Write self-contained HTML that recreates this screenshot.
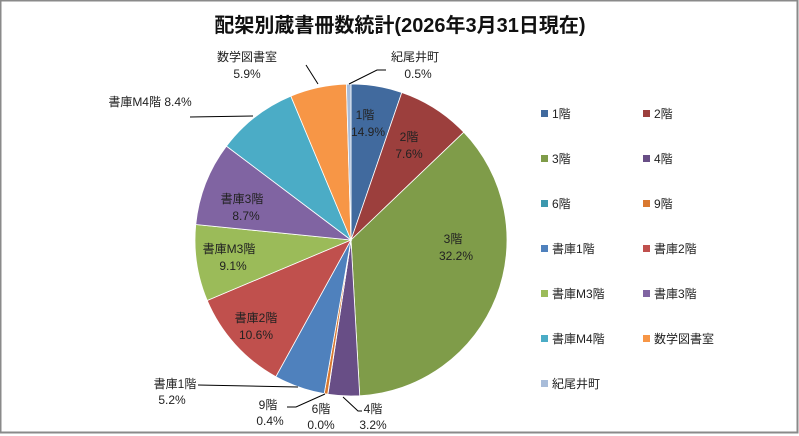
<!DOCTYPE html>
<html><head><meta charset="utf-8"><style>
html,body{margin:0;padding:0;background:#fff}
svg{display:block}
text{font-family:"Liberation Sans","Noto Sans CJK JP",sans-serif;font-size:12px;fill:#222}
</style></head><body>
<svg width="799" height="436" viewBox="0 0 799 436" xmlns="http://www.w3.org/2000/svg">
<rect x="0.5" y="0.5" width="797" height="432" fill="#fff" stroke="#8a8a8a" stroke-width="2"/>
<text x="400" y="32" text-anchor="middle" style="font-size:20px;font-weight:bold;fill:#111">配架別蔵書冊数統計(2026年3月31日現在)</text>
<g stroke="#fff" stroke-width="0.8">
<path d="M351,240 L351,84 A156,156 0 0 1 401.79,92.50 Z" fill="#416a9e"/>
<path d="M351,240 L401.79,92.50 A156,156 0 0 1 463.79,132.22 Z" fill="#9c3f3d"/>
<path d="M351,240 L463.79,132.22 A156,156 0 0 1 359.71,395.76 Z" fill="#7f9c49"/>
<path d="M351,240 L359.71,395.76 A156,156 0 0 1 327.94,394.29 Z" fill="#684e86"/>
<path d="M351,240 L327.94,394.29 A156,156 0 0 1 327.68,394.25 Z" fill="#3c98ae"/>
<path d="M351,240 L327.68,394.25 A156,156 0 0 1 324.18,393.68 Z" fill="#d9782f"/>
<path d="M351,240 L324.18,393.68 A156,156 0 0 1 275.84,376.70 Z" fill="#4f81bd"/>
<path d="M351,240 L275.84,376.70 A156,156 0 0 1 207.18,300.45 Z" fill="#c0504d"/>
<path d="M351,240 L207.18,300.45 A156,156 0 0 1 195.77,224.51 Z" fill="#9bbb59"/>
<path d="M351,240 L195.77,224.51 A156,156 0 0 1 226.42,146.12 Z" fill="#8064a2"/>
<path d="M351,240 L226.42,146.12 A156,156 0 0 1 290.80,96.09 Z" fill="#4bacc6"/>
<path d="M351,240 L290.80,96.09 A156,156 0 0 1 346.37,84.06 Z" fill="#f79646"/>
<path d="M351,240 L346.37,84.06 A156,156 0 0 1 351,84 Z" fill="#a8bcd9"/>
</g>
<g text-anchor="middle">
<text x="365" y="119">1階</text><text x="368" y="136">14.9%</text>
<text x="409" y="141">2階</text><text x="409" y="158">7.6%</text>
<text x="453" y="243">3階</text><text x="456" y="260">32.2%</text>
<text x="242" y="203">書庫3階</text><text x="246" y="220">8.7%</text>
<text x="229" y="253">書庫M3階</text><text x="233" y="270">9.1%</text>
<text x="256" y="322">書庫2階</text><text x="256" y="339">10.6%</text>
<text x="247" y="61">数学図書室</text><text x="247" y="78">5.9%</text>
<text x="415" y="61">紀尾井町</text><text x="418" y="78">0.5%</text>
<text x="150" y="106">書庫M4階 8.4%</text>
<text x="175" y="388">書庫1階</text><text x="172" y="404">5.2%</text>
<text x="268" y="409">9階</text><text x="270" y="425">0.4%</text>
<text x="321" y="413">6階</text><text x="321" y="429">0.0%</text>
<text x="373" y="413">4階</text><text x="373" y="429">3.2%</text>
</g>
<g stroke="#000" stroke-width="1" fill="none">
<polyline points="349,84 377,70 386,70"/>
<polyline points="318,84 306,65"/>
<polyline points="190,117 253,116"/>
<polyline points="198,385 298,387"/>
<polyline points="287,407 296,407 325,394"/>
<polyline points="343,397 358,411 362,411"/>
</g>
<g>
<rect x="541" y="110" width="7" height="7" fill="#416a9e"/><text x="552" y="118">1階</text>
<rect x="643" y="110" width="7" height="7" fill="#9c3f3d"/><text x="654" y="118">2階</text>
<rect x="541" y="155" width="7" height="7" fill="#7f9c49"/><text x="552" y="163">3階</text>
<rect x="643" y="155" width="7" height="7" fill="#684e86"/><text x="654" y="163">4階</text>
<rect x="541" y="200" width="7" height="7" fill="#3c98ae"/><text x="552" y="208">6階</text>
<rect x="643" y="200" width="7" height="7" fill="#d9782f"/><text x="654" y="208">9階</text>
<rect x="541" y="245" width="7" height="7" fill="#4f81bd"/><text x="552" y="253">書庫1階</text>
<rect x="643" y="245" width="7" height="7" fill="#c0504d"/><text x="654" y="253">書庫2階</text>
<rect x="541" y="290" width="7" height="7" fill="#9bbb59"/><text x="552" y="298">書庫M3階</text>
<rect x="643" y="290" width="7" height="7" fill="#8064a2"/><text x="654" y="298">書庫3階</text>
<rect x="541" y="335" width="7" height="7" fill="#4bacc6"/><text x="552" y="343">書庫M4階</text>
<rect x="643" y="335" width="7" height="7" fill="#f79646"/><text x="654" y="343">数学図書室</text>
<rect x="541" y="380" width="7" height="7" fill="#a8bcd9"/><text x="552" y="388">紀尾井町</text>
</g>
</svg>
</body></html>
